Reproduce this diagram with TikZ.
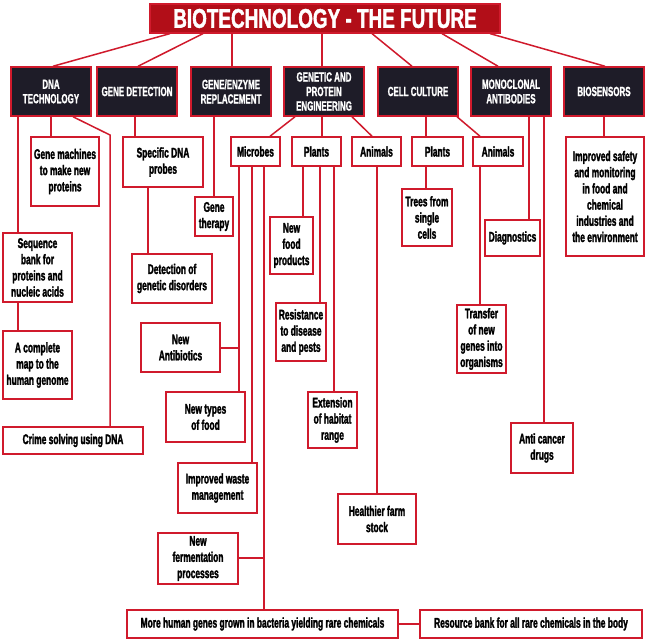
\documentclass[tikz,border=0pt]{standalone}
\usepackage{fontspec}
\setmainfont{Liberation Sans}[FakeStretch=0.68]
\newfontfamily\bodyfont{Liberation Sans}[FakeStretch=0.6,FakeBold=1.8]
\newfontfamily\headfont{Liberation Sans}[FakeStretch=0.6,FakeBold=1.2]
\newfontfamily\titlefont{Liberation Sans}[FakeStretch=0.7,FakeBold=1.5]
\definecolor{lred}{RGB}{208,26,44}
\definecolor{tred}{RGB}{178,14,24}
\definecolor{hdark}{RGB}{30,28,40}
\newcommand\mkbox[7]{\node[#1, minimum width={(#5)-(#3)}, minimum height={(#6)-(#4)}] (#2) at ({((#3)+(#5))/2},{((#4)+(#6))/2}) {#7};}
\begin{document}
\begin{tikzpicture}[x=1pt,y=-1pt,
  box/.style={draw=lred, line width=1.5pt, fill=white, align=center, inner sep=1pt,
    font={\bodyfont\bfseries\fontsize{14}{16.2}\selectfont}, text=black},
  hbox/.style={draw=lred, line width=1.5pt, fill=hdark, align=center, inner sep=1pt,
    font={\headfont\bfseries\fontsize{13.3}{14.5}\selectfont}, text=white},
  tbox/.style={draw=lred, line width=1.2pt, fill=tred, align=center, inner sep=1pt,
    font={\titlefont\bfseries\fontsize{27}{30}\selectfont}, text=white},
  conn/.style={draw=lred, line width=1.5pt}]
\fill[white] (0,0) rectangle (650,644);
\useasboundingbox (0,0) rectangle (650,644);
% x positions for connectors
\path (18,0) coordinate (xa) (51,0) coordinate (xb) (73,0) coordinate (xc) (110,0) coordinate (xd)
  (135,0) coordinate (xe) (148,0) coordinate (xf) (214,0) coordinate (xg) (232,0) coordinate (xh)
  (295,0) coordinate (xi) (270,0) coordinate (xj) (322,0) coordinate (xk) (352,0) coordinate (xl)
  (372,0) coordinate (xm) (426,0) coordinate (xn) (457,0) coordinate (xo) (480,0) coordinate (xp)
  (529,0) coordinate (xq) (544,0) coordinate (xr) (604,0) coordinate (xs) (239,0) coordinate (xt)
  (252,0) coordinate (xu) (264,0) coordinate (xv) (303,0) coordinate (xw) (320,0) coordinate (xx)
  (334,0) coordinate (xy) (377,0) coordinate (xz)
  (170,0) coordinate (ta) (53,0) coordinate (tb) (203,0) coordinate (tc) (138,0) coordinate (td)
  (412,0) coordinate (te) (442,0) coordinate (tf) (498,0) coordinate (tg) (490,0) coordinate (th)
  (605,0) coordinate (ti)
  (0,348) coordinate (ya) (0,558) coordinate (yb) (0,624) coordinate (yc) (0,135) coordinate (yd);
% title and headers
\mkbox{tbox}{title}{150}{4}{500}{33}{BIOTECHNOLOGY - THE FUTURE}
\mkbox{hbox}{h1}{11}{67}{91}{116}{DNA\\TECHNOLOGY}
\mkbox{hbox}{h2}{97}{67}{177}{116}{GENE DETECTION}
\mkbox{hbox}{h3}{191}{67}{271}{116}{GENE/ENZYME\\REPLACEMENT}
\mkbox{hbox}{h4}{284}{67}{364}{116}{GENETIC AND\\PROTEIN\\ENGINEERING}
\mkbox{hbox}{h5}{378}{67}{458}{116}{CELL CULTURE}
\mkbox{hbox}{h6}{471}{67}{551}{116}{MONOCLONAL\\ANTIBODIES}
\mkbox{hbox}{h7}{564}{67}{644}{116}{BIOSENSORS}
\draw[conn] (title.south -| ta) -- (h1.north -| tb);
\draw[conn] (title.south -| tc) -- (h2.north -| td);
\draw[conn] (title.south -| xh) -- (h3.north -| xh);
\draw[conn] (title.south -| xk) -- (h4.north -| xk);
\draw[conn] (title.south -| xm) -- (h5.north -| te);
\draw[conn] (title.south -| tf) -- (h6.north -| tg);
\draw[conn] (title.south -| th) -- (h7.north -| ti);
% second level boxes
\mkbox{box}{genemach}{31}{137}{99}{206}{Gene machines\\to make new\\proteins}
\mkbox{box}{seqbank}{3}{233}{72}{302}{Sequence\\bank for\\proteins and\\nucleic acids}
\mkbox{box}{genome}{3}{331}{72}{399}{A complete\\map to the\\human genome}
\mkbox{box}{crime}{3}{427}{143}{454}{Crime solving using DNA}
\mkbox{box}{probes}{123}{137}{203}{187}{Specific DNA\\probes}
\mkbox{box}{detect}{132}{254}{212}{303}{Detection of\\genetic disorders}
\mkbox{box}{therapy}{195}{197}{233}{236}{Gene\\therapy}
\mkbox{box}{microbes}{231}{137}{280}{166}{Microbes}
\mkbox{box}{plantsg}{292}{137}{341}{166}{Plants}
\mkbox{box}{animalsg}{352}{137}{401}{166}{Animals}
\mkbox{box}{plantsc}{412}{137}{463}{166}{Plants}
\mkbox{box}{animalsc}{473}{137}{523}{166}{Animals}
\mkbox{box}{diag}{485}{220}{540}{256}{Diagnostics}
\mkbox{box}{anticancer}{511}{423}{573}{473}{Anti cancer\\drugs}
\mkbox{box}{safety}{566}{137}{644}{256}{Improved safety\\and monitoring\\in food and\\chemical\\industries and\\the environment}
\mkbox{box}{newfood}{270}{217}{313}{274}{New\\food\\products}
\mkbox{box}{resist}{276}{303}{326}{361}{Resistance\\to disease\\and pests}
\mkbox{box}{extension}{308}{392}{357}{448}{Extension\\of habitat\\range}
\mkbox{box}{healthier}{338}{494}{416}{544}{Healthier farm\\stock}
\mkbox{box}{trees}{402}{189}{452}{246}{Trees from\\single\\cells}
\mkbox{box}{transfer}{457}{305}{506}{373}{Transfer\\of new\\genes into\\organisms}
\mkbox{box}{antibiotics}{141}{323}{220}{372}{New\\Antibiotics}
\mkbox{box}{newtypes}{166}{392}{245}{442}{New types\\of food}
\mkbox{box}{waste}{178}{463}{257}{513}{Improved waste\\management}
\mkbox{box}{ferment}{158}{533}{238}{584}{New\\fermentation\\processes}
\mkbox{box}{morehuman}{127}{610}{398}{638}{More human genes grown in bacteria yielding rare chemicals}
\mkbox{box}{resource}{420}{610}{642}{638}{Resource bank for all rare chemicals in the body}
% connectors level 2
\draw[conn] (h1.south -| xb) -- (genemach.north -| xb);
\draw[conn] (h1.south -| xa) -- (seqbank.north -| xa);
\draw[conn] (seqbank.south -| xa) -- (genome.north -| xa);
\draw[conn] (h1.south -| xc) -- (yd -| xd) -- (crime.north -| xd);
\draw[conn] (h2.south -| xe) -- (probes.north -| xe);
\draw[conn] (probes.south -| xf) -- (detect.north -| xf);
\draw[conn] (h3.south -| xg) -- (therapy.north -| xg);
\draw[conn] (h4.south -| xi) -- (microbes.north -| xj);
\draw[conn] (h4.south -| xk) -- (plantsg.north -| xk);
\draw[conn] (h4.south -| xl) -- (animalsg.north -| xm);
\draw[conn] (h5.south -| xn) -- (plantsc.north -| xn);
\draw[conn] (h5.south -| xo) -- (animalsc.north -| xp);
\draw[conn] (h6.south -| xq) -- (diag.north -| xq);
\draw[conn] (h6.south -| xr) -- (anticancer.north -| xr);
\draw[conn] (h7.south -| xs) -- (safety.north -| xs);
\draw[conn] (microbes.south -| xt) -- (newtypes.north -| xt);
\draw[conn] (antibiotics.east |- ya) -- (ya -| xt);
\draw[conn] (microbes.south -| xu) -- (waste.north -| xu);
\draw[conn] (microbes.south -| xv) -- (morehuman.north -| xv);
\draw[conn] (ferment.east |- yb) -- (yb -| xv);
\draw[conn] (morehuman.east |- yc) -- (resource.west |- yc);
\draw[conn] (plantsg.south -| xw) -- (newfood.north -| xw);
\draw[conn] (plantsg.south -| xx) -- (resist.north -| xx);
\draw[conn] (plantsg.south -| xy) -- (extension.north -| xy);
\draw[conn] (animalsg.south -| xz) -- (healthier.north -| xz);
\draw[conn] (plantsc.south -| xn) -- (trees.north -| xn);
\draw[conn] (animalsc.south -| xp) -- (transfer.north -| xp);
\end{tikzpicture}
\end{document}
